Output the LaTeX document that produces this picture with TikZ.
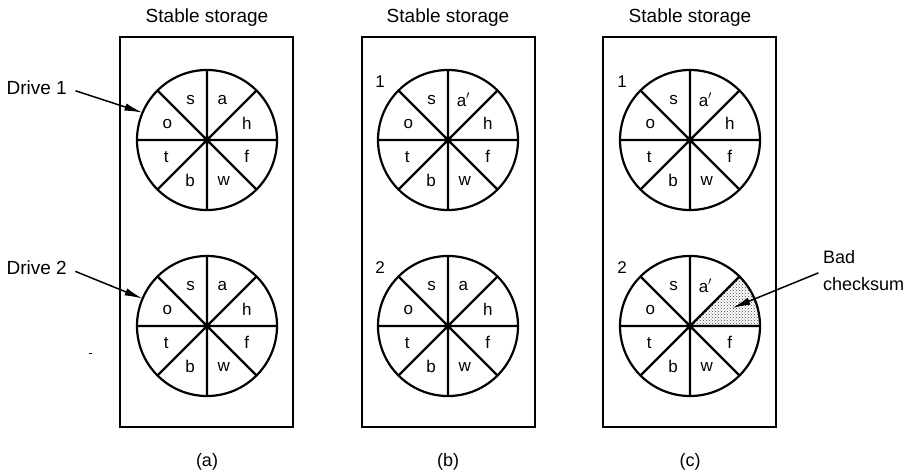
\documentclass[tikz,border=0pt]{standalone}
\usepackage{fontspec}
\setmainfont{Liberation Sans}
\usetikzlibrary{arrows.meta,calc,patterns}
\newcommand\mkdisk[3]{% #1 name, #2 position, #3 label of the a-sector
  \node[disk] (#1) at (#2) {};
  \draw[divider] (#1.0) -- (#1.180) (#1.45) -- (#1.225)
                 (#1.90) -- (#1.270) (#1.135) -- (#1.315);
  \fill (#1.center) circle (3.6pt);
  \node[sect] (#1-s) at ($(#1.center)+(112.5:43pt)$) {s};
  \node[sect] (#1-a) at ($(#1.center)+(69:43pt)$) {#3};
  \node[sect] (#1-o) at ($(#1.center)+(157.5:43pt)$) {o};
  \node[sect] (#1-t) at ($(#1.center)+(202.5:44pt)$) {t};
  \node[sect] (#1-b) at ($(#1.center)+(247.5:44pt)$) {b};
  \node[sect] (#1-w) at ($(#1.center)+(292.5:44pt)$) {w};
  \node[sect] (#1-f) at ($(#1.center)+(337.5:43pt)$) {f};
}
\begin{document}
\begin{tikzpicture}[x=1pt,y=1pt,
  disk/.style={circle,draw,line width=2.2pt,minimum size=140pt,inner sep=0pt,outer sep=0pt},
  divider/.style={line width=2.2pt},
  panel/.style={draw,line width=2pt,minimum width=173pt,minimum height=390pt,inner sep=0pt},
  title/.style={font=\fontsize{19}{22}\selectfont,inner sep=0pt,anchor=base},
  sect/.style={font=\fontsize{17}{19}\selectfont,inner sep=0pt},
  num/.style={font=\fontsize{17}{19}\selectfont,inner sep=0pt},
  sublabel/.style={font=\fontsize{18}{20}\selectfont,inner sep=0pt,anchor=base},
  callout/.style={line width=1.5pt,-{Latex[length=18pt,width=7.5pt]}},
  badfill/.style={pattern=crosshatch dots,pattern color=black!75},
]
\useasboundingbox (0,0) rectangle (920,472);

% panels
\node[panel] (pa) at (206.5,240) {};
\node[panel] (pb) at (448,240) {};
\node[panel] (pc) at (689,240) {};
\node[title] (ta) at (207,449) {Stable storage};
\node[title] (tb) at (448,449) {Stable storage};
\node[title] (tc) at (690,449) {Stable storage};
\node[sublabel] (la) at (207,6) {(a)};
\node[sublabel] (lb) at (448,6) {(b)};
\node[sublabel] (lc) at (690,6) {(c)};

% shaded sector (bad checksum)
\fill[badfill] (690,146) -- ++(0:70) arc[start angle=0,end angle=45,radius=70] -- cycle;

% disks
\mkdisk{a1}{207,332}{a}
\mkdisk{a2}{207,146}{a}
\mkdisk{b1}{448,332}{a$'$}
\mkdisk{b2}{448,146}{a}
\mkdisk{c1}{690,332}{a$'$}
\mkdisk{c2}{690,146}{a$'$}
\node[sect] (a1-h) at ($(a1.center)+(22.5:43pt)$) {h};
\node[sect] (a2-h) at ($(a2.center)+(22.5:43pt)$) {h};
\node[sect] (b1-h) at ($(b1.center)+(22.5:43pt)$) {h};
\node[sect] (b2-h) at ($(b2.center)+(22.5:43pt)$) {h};
\node[sect] (c1-h) at ($(c1.center)+(22.5:43pt)$) {h};

% drive numbers
\node[num] (nb1) at ($(b1.center)+(-68,58)$) {1};
\node[num] (nb2) at ($(b2.center)+(-68,58)$) {2};
\node[num] (nc1) at ($(c1.center)+(-68,58)$) {1};
\node[num] (nc2) at ($(c2.center)+(-68,58)$) {2};

% drive labels and arrows
\node[font=\fontsize{19}{22}\selectfont,inner sep=0pt,anchor=east] (d1) at (67,384) {Drive 1};
\node[font=\fontsize{19}{22}\selectfont,inner sep=0pt,anchor=east] (d2) at (67,204) {Drive 2};
\draw[callout,shorten <=9pt] (d1.east) -- (a1.157);
\draw[callout,shorten <=9pt] (d2.east) -- (a2.157);

% bad checksum
\node[font=\fontsize{18}{27}\selectfont,inner sep=0pt,align=left,anchor=west] (bad) at (823,201) {Bad\\checksum};
\coordinate (badtip) at ($(c2.center)+(23:46pt)$);
\draw[callout,shorten <=5pt] (bad.west) -- (badtip);

% small stray mark
\draw[line width=1pt] (88.5,119) -- (91.5,119);
\end{tikzpicture}
\end{document}
